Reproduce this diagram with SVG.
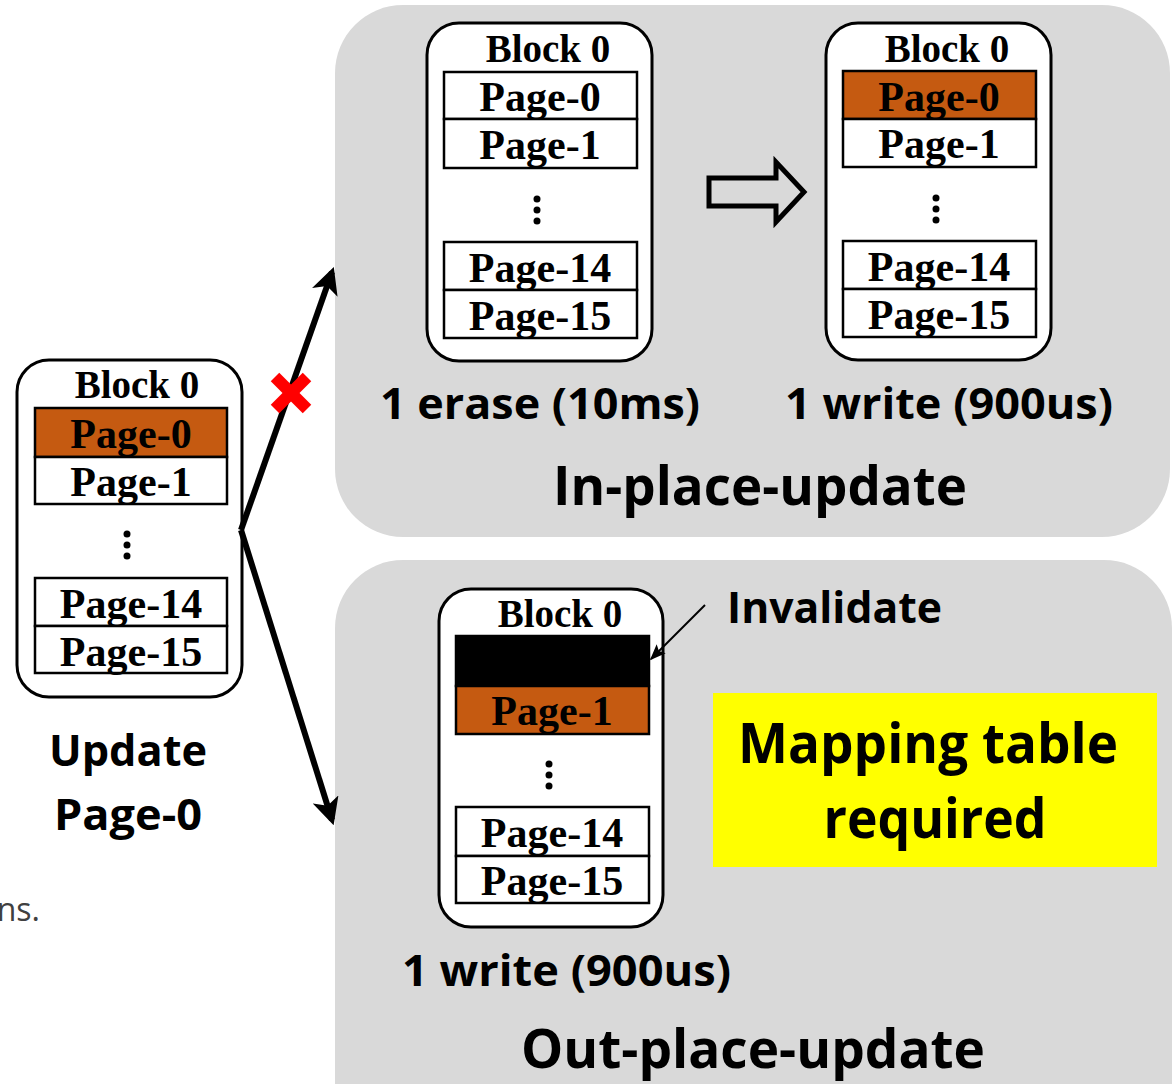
<svg xmlns="http://www.w3.org/2000/svg" width="1174" height="1084" viewBox="0 0 1174 1084">
  <style>
    .panel { fill: #d9d9d9; }
    .block { fill: #ffffff; stroke: #000; stroke-width: 3; }
    .page { fill: #ffffff; stroke: #000; stroke-width: 2.5; }
    .hot { fill: #c55a11; }
    .dead { fill: #000; }
    .serif { font-family: "Liberation Serif", "Times New Roman", serif; font-weight: bold; fill: #000; text-anchor: middle; }
    .bt { font-size: 39px; }
    .pt { font-size: 42px; }
    .sans { font-family: "Open Sans", "Liberation Sans", sans-serif; font-weight: bold; fill: #000; }
    .dot { fill: #000; }
    .conn { stroke: #000; stroke-width: 6; fill: none; }
  </style>
  <defs>
    <marker id="head" viewBox="0 0 10 10" refX="8" refY="5" markerWidth="4.5" markerHeight="4.5" orient="auto" markerUnits="strokeWidth">
      <path d="M0,0 L10,5 L0,10 L2.5,5 Z" fill="#000"/>
    </marker>
    <marker id="thinhead" viewBox="0 0 10 10" refX="9" refY="5" markerWidth="8" markerHeight="8" orient="auto" markerUnits="strokeWidth">
      <path d="M0,1 L10,5 L0,9 L2,5 Z" fill="#000"/>
    </marker>
  </defs>

  <!-- background -->
  <rect width="1174" height="1084" fill="#ffffff"/>

  <!-- clipped text from the surrounding page -->
  <text x="40" y="921" font-family="'Open Sans', 'Liberation Sans', sans-serif" font-size="32" fill="#404040" text-anchor="end">ns.</text>

  <!-- panels -->
  <g id="panel-inplace">
    <rect class="panel" x="335" y="5" width="835" height="532" rx="68"/>
    <text class="sans" x="760" y="505" font-size="53" text-anchor="middle" textLength="414" lengthAdjust="spacingAndGlyphs">In-place-update</text>
  </g>
  <g id="panel-outplace">
    <rect class="panel" x="335" y="560" width="837" height="600" rx="68"/>
    <text class="sans" x="753" y="1068" font-size="53" text-anchor="middle" textLength="464" lengthAdjust="spacingAndGlyphs">Out-place-update</text>
  </g>

  <!-- source block -->
  <g id="block-src">
    <rect class="block" x="17" y="360" width="225" height="337" rx="32"/>
    <text class="serif bt" x="137" y="398">Block 0</text>
    <rect class="page hot" x="35" y="408" width="192" height="49"/>
    <text class="serif pt" x="131" y="448">Page-0</text>
    <rect class="page" x="35" y="457" width="192" height="47"/>
    <text class="serif pt" x="131" y="496">Page-1</text>
    <circle class="dot" cx="127" cy="534" r="3.5"/>
    <circle class="dot" cx="127" cy="545" r="3.5"/>
    <circle class="dot" cx="127" cy="556" r="3.5"/>
    <rect class="page" x="35" y="578" width="192" height="48"/>
    <text class="serif pt" x="131" y="618">Page-14</text>
    <rect class="page" x="35" y="626" width="192" height="47"/>
    <text class="serif pt" x="131" y="666">Page-15</text>
  </g>
  <g id="label-update">
    <text class="sans" x="128" y="766" font-size="43" text-anchor="middle" textLength="158" lengthAdjust="spacingAndGlyphs">Update</text>
    <text class="sans" x="128" y="830" font-size="43" text-anchor="middle" textLength="148" lengthAdjust="spacingAndGlyphs">Page-0</text>
  </g>

  <!-- in-place: block before -->
  <g id="block-erase">
    <rect class="block" x="427" y="23" width="225" height="338" rx="32"/>
    <text class="serif bt" x="548" y="62">Block 0</text>
    <rect class="page" x="444" y="72" width="193" height="47"/>
    <text class="serif pt" x="540" y="111">Page-0</text>
    <rect class="page" x="444" y="119" width="193" height="49"/>
    <text class="serif pt" x="540" y="159">Page-1</text>
    <circle class="dot" cx="537" cy="199" r="3.5"/>
    <circle class="dot" cx="537" cy="210" r="3.5"/>
    <circle class="dot" cx="537" cy="221" r="3.5"/>
    <rect class="page" x="444" y="242" width="193" height="48"/>
    <text class="serif pt" x="540" y="282">Page-14</text>
    <rect class="page" x="444" y="290" width="193" height="48"/>
    <text class="serif pt" x="540" y="330">Page-15</text>
    <text class="sans" x="380" y="419" font-size="43" textLength="320" lengthAdjust="spacingAndGlyphs">1 erase (10ms)</text>
  </g>

  <!-- hollow step arrow -->
  <g id="step-arrow">
    <path d="M709,178 L776,178 L776,162 L804,192 L776,222 L776,206 L709,206 Z" fill="none" stroke="#000" stroke-width="5" stroke-linejoin="miter"/>
  </g>

  <!-- in-place: block after -->
  <g id="block-write">
    <rect class="block" x="826" y="23" width="225" height="337" rx="32"/>
    <text class="serif bt" x="947" y="62">Block 0</text>
    <rect class="page hot" x="843" y="71" width="193" height="48"/>
    <text class="serif pt" x="939" y="111">Page-0</text>
    <rect class="page" x="843" y="119" width="193" height="48"/>
    <text class="serif pt" x="939" y="158">Page-1</text>
    <circle class="dot" cx="936" cy="198" r="3.5"/>
    <circle class="dot" cx="936" cy="209" r="3.5"/>
    <circle class="dot" cx="936" cy="220" r="3.5"/>
    <rect class="page" x="843" y="241" width="193" height="48"/>
    <text class="serif pt" x="939" y="281">Page-14</text>
    <rect class="page" x="843" y="289" width="193" height="48"/>
    <text class="serif pt" x="939" y="329">Page-15</text>
    <text class="sans" x="785" y="419" font-size="43" textLength="328" lengthAdjust="spacingAndGlyphs">1 write (900us)</text>
  </g>

  <!-- out-place: block -->
  <g id="block-out">
    <rect class="block" x="439" y="589" width="224" height="338" rx="32"/>
    <text class="serif bt" x="560" y="627">Block 0</text>
    <rect class="page dead" x="456" y="636" width="193" height="50"/>
    <rect class="page hot" x="456" y="686" width="193" height="48"/>
    <text class="serif pt" x="552" y="725">Page-1</text>
    <circle class="dot" cx="549" cy="764" r="3.5"/>
    <circle class="dot" cx="549" cy="775" r="3.5"/>
    <circle class="dot" cx="549" cy="786" r="3.5"/>
    <rect class="page" x="456" y="807" width="193" height="49"/>
    <text class="serif pt" x="552" y="847">Page-14</text>
    <rect class="page" x="456" y="856" width="193" height="47"/>
    <text class="serif pt" x="552" y="895">Page-15</text>
    <text class="sans" x="402" y="986" font-size="43" textLength="329" lengthAdjust="spacingAndGlyphs">1 write (900us)</text>
  </g>

  <g id="note-invalidate">
    <text class="sans" x="727" y="623" font-size="43" textLength="215" lengthAdjust="spacingAndGlyphs">Invalidate</text>
  </g>

  <g id="note-mapping">
    <rect x="713" y="693" width="444" height="174" fill="#ffff00"/>
    <text class="sans" x="928" y="763" font-size="55" text-anchor="middle" textLength="380" lengthAdjust="spacingAndGlyphs">Mapping table</text>
    <text class="sans" x="935" y="838" font-size="55" text-anchor="middle" textLength="223" lengthAdjust="spacingAndGlyphs">required</text>
  </g>

  <!-- connectors -->
  <g id="connectors">
    <path class="conn" d="M241,530 L332,272" marker-end="url(#head)"/>
    <path class="conn" d="M241,530 L332,820" marker-end="url(#head)"/>
    <path d="M705,605 L651,659" stroke="#000" stroke-width="2" fill="none" marker-end="url(#thinhead)"/>
    <!-- blocked route mark -->
    <g stroke="#ff0000" stroke-width="12">
      <line x1="275" y1="377" x2="307" y2="409"/>
      <line x1="307" y1="377" x2="275" y2="409"/>
    </g>
  </g>
</svg>
